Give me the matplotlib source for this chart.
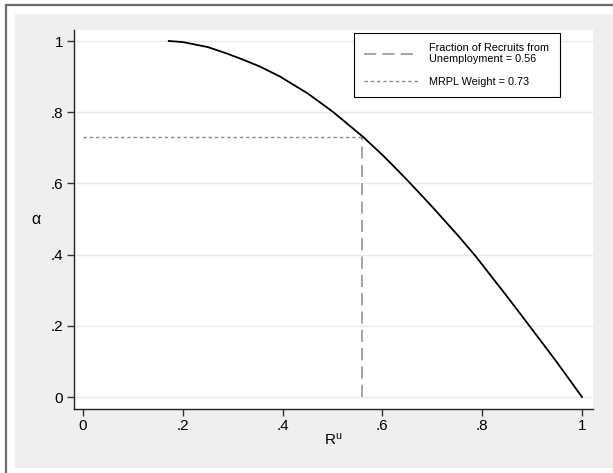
import matplotlib
matplotlib.use("Agg")
import matplotlib.pyplot as plt
from matplotlib.patches import Rectangle

plt.rcParams['font.family'] = ['Liberation Sans', 'DejaVu Sans']
plt.rcParams['mathtext.default'] = 'regular'

# Data
R_u = [0.172, 0.20, 0.25, 0.288, 0.32, 0.355, 0.395, 0.45, 0.50, 0.561,
       0.60, 0.615, 0.652, 0.70, 0.75, 0.786, 0.816, 0.85, 0.90, 0.95, 1.0]
alpha = [1.0, 0.997, 0.983, 0.965, 0.948, 0.928, 0.900, 0.853, 0.802, 0.731,
         0.680, 0.659, 0.606, 0.534, 0.456, 0.397, 0.343, 0.282, 0.190,
         0.097, 0.0]
frac_unemp = 0.56
mrpl_weight = 0.73
ticks = [0, 0.2, 0.4, 0.6, 0.8, 1.0]
tick_labels = ["0", ".2", ".4", ".6", ".8", "1"]

W, H = 613, 473
fig = plt.figure(figsize=(W / 100, H / 100), dpi=100)
fig.patch.set_facecolor('white')

# outer frame and gray graph region
fig.patches.append(Rectangle((15 / W, 1 - 468 / H), 1.0, (468 - 14) / H,
                             transform=fig.transFigure, facecolor='#efefef',
                             edgecolor='none', zorder=-10))
fig.patches.append(Rectangle((6 / W, -0.1), 1.2, 1 - 5 / H + 0.1,
                             transform=fig.transFigure, facecolor='none',
                             edgecolor='#6e6e6e', lw=1.6, zorder=-9))

ax = fig.add_axes([74 / W, 1 - 409 / H, (593 - 74) / W, (409 - 30) / H])
ax.set_zorder(1)
ax.set_facecolor('white')

ax.plot(R_u, alpha, color='black', lw=1.3, zorder=3)
l1, = ax.plot([frac_unemp, frac_unemp], [0, mrpl_weight], color='#8c8c8c',
              lw=1.1, dashes=(8, 4), zorder=2,
              label='Fraction of Recruits from\nUnemployment = 0.56')
l2, = ax.plot([0, frac_unemp], [mrpl_weight, mrpl_weight], color='#8c8c8c',
              lw=1.0, dashes=(2.5, 2), zorder=2,
              label='MRPL Weight = 0.73')

ax.set_xlim(-9 / 499, 1 + 11 / 499)
ax.set_ylim(-12 / 356, 1 + 11 / 356)
ax.set_xticks(ticks)
ax.set_xticklabels(tick_labels)
ax.set_yticks(ticks)
ax.set_yticklabels(tick_labels)
ax.yaxis.grid(True, color='#e8e8e8', lw=1.0, zorder=0)
ax.set_axisbelow(True)

for s in ['top', 'right']:
    ax.spines[s].set_visible(False)
for s in ['left', 'bottom']:
    ax.spines[s].set_color('#222222')
    ax.spines[s].set_linewidth(1.0)
ax.tick_params(axis='both', direction='out', length=5, width=1.0,
               color='#333333', labelsize=11)
ax.tick_params(axis='x', pad=2)
ax.tick_params(axis='y', pad=3)

ax.set_xlabel('R$^{u}$', fontsize=11, labelpad=-1)
ax.set_ylabel('α', fontsize=11.5, rotation=0, labelpad=10, va='center')

leg = ax.legend(handles=[l1, l2], loc='upper right',
                bbox_to_anchor=(0.936, 0.992), borderaxespad=0, fontsize=7.8,
                frameon=True, fancybox=False, edgecolor='black',
                framealpha=1, handlelength=5.0, borderpad=0.95,
                labelspacing=1.15, handletextpad=1.05)
leg.get_frame().set_linewidth(0.8)
for t in leg.get_texts():
    t.set_linespacing(1.1)

fig.savefig('out.png', dpi=100)
